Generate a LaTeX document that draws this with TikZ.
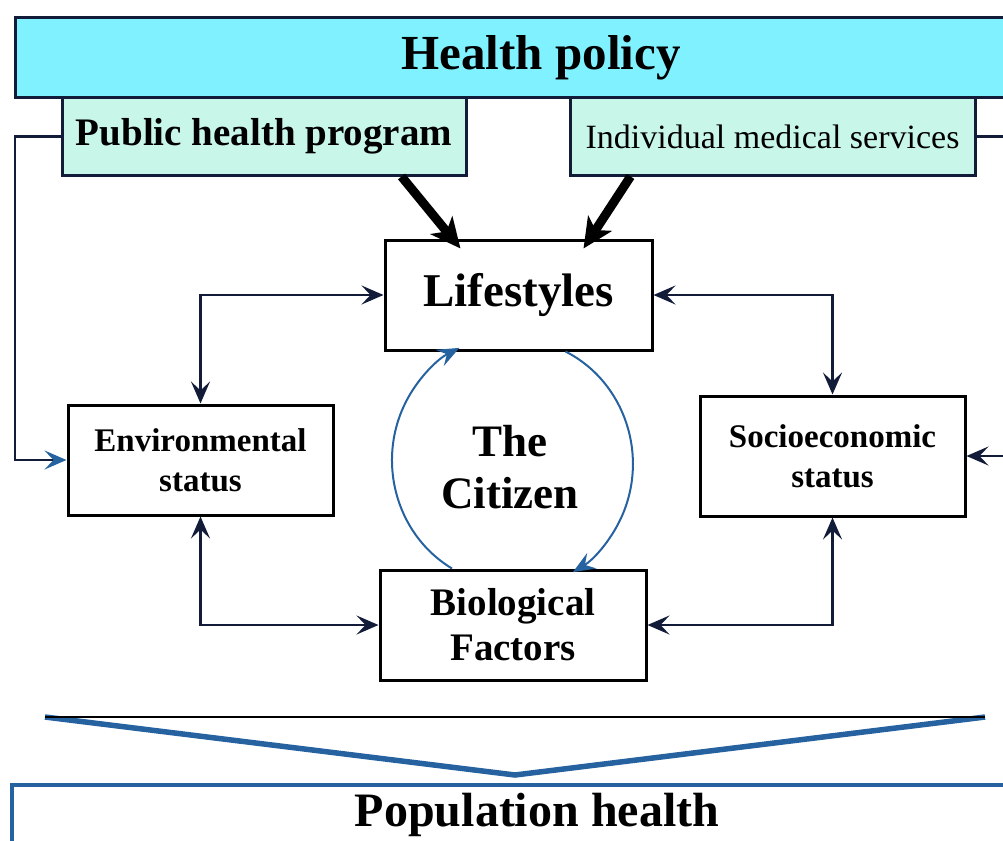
\documentclass[tikz,border=0pt]{standalone}
\usepackage{fontspec}
\setmainfont{Liberation Serif}
\usetikzlibrary{arrows.meta,calc}

\definecolor{policycyan}{RGB}{128,242,255}
\definecolor{progmint}{RGB}{200,247,234}
\definecolor{citblue}{RGB}{38,98,160}
\definecolor{navy}{RGB}{18,28,56}

\tikzset{
  sharp/.tip={Stealth[length=22pt,width=19pt,inset=9pt]},
  bluesharp/.tip={Stealth[length=22pt,width=19pt,inset=9pt,color=citblue]}
}

\begin{document}
\begin{tikzpicture}
  [x=1pt,y=1pt,
    font=\bfseries,
    box/.style={draw=black,line width=3pt,fill=white,align=center,inner sep=0pt},
    sized/.style 2 args={font=\bfseries\fontsize{#1}{#2}\selectfont},
    link/.style={draw=navy,line width=2.8pt},
    heavy/.style={draw=black,line width=9pt,-{Stealth[length=30pt,width=28pt,inset=8pt]}},
    cit/.style={draw=citblue,line width=2pt,-{Stealth[length=22pt,width=18pt,inset=8pt]}}]

  \useasboundingbox (0,0) rectangle (1003,-840);

  % the loop round the citizen
  \node[align=center,sized={45}{52}] (citizen) at (510,-467) {The\\Citizen};

  \node[box,fill=policycyan,draw=navy,minimum width=1052pt,minimum height=80pt,sized={49}{52}]
    (policy) at (541,-58) {Health policy};
  \node[box,fill=progmint,draw=navy,minimum width=404pt,minimum height=77pt,sized={39}{42}]
    (public) at (264,-136.5) {Public health program};
  \node[box,fill=progmint,draw=navy,minimum width=405pt,minimum height=77pt,
    font=\mdseries\fontsize{34}{36}\selectfont]
    (indiv) at (772.5,-136.5) {Individual medical services};

  \node[box,minimum width=267pt,minimum height=110pt,sized={47}{50}]
    (life) at (518.5,-295) {Lifestyles};
  \node[box,minimum width=265pt,minimum height=110pt,sized={33}{40}]
    (env) at (200.5,-460) {Environmental\\status};
  \node[box,minimum width=265pt,minimum height=120pt,sized={33}{40}]
    (socio) at (832.5,-456) {Socioeconomic\\status};
  \node[box,minimum width=266pt,minimum height=110pt,sized={39}{45}]
    (bio) at (513,-625) {Biological\\Factors};

  \node[box,draw=citblue,line width=3.5pt,minimum width=1050pt,minimum height=60pt,sized={48}{50}]
    (pop) at (537,-815) {Population health};

  \draw[cit] ($(bio.north)+(-61,0)$)
    arc[start angle=240,end angle=116,x radius=120pt,y radius=125pt];
  \draw[cit] ($(life.south)+(47,0)$)
    arc[start angle=64,end angle=-60,x radius=120pt,y radius=125pt];

  % feedback rails
  \coordinate (lrail) at (15,0);
  \coordinate (rrail) at (1012,0);
  \draw[link,-bluesharp]
    (public.west) -- (public.west -| lrail) -- (env.west -| lrail) -- (env.west);
  \draw[link,-sharp]
    (indiv.east) -- (indiv.east -| rrail) -- (socio.east -| rrail) -- (socio.east);

  \draw[heavy] ($(public.south east)+(-66,0)$) -- ($(life.north west)+(77,-10)$);
  \draw[heavy] ($(indiv.south west)+(62,0)$) -- ($(life.north east)+(-70,-10)$);

  \draw[link,sharp-sharp] (life.west) -| (env.north);
  \draw[link,sharp-sharp] (life.east) -| (socio.north);
  \draw[link,sharp-sharp] (env.south) |- (bio.west);
  \draw[link,sharp-sharp] (socio.south) |- (bio.east);

  % funnel into population health
  \coordinate (chevL) at (45,-717);
  \coordinate (chevR) at (985,-717);
  \coordinate (chevT) at (515,-775);
  \draw[draw=citblue,fill=white,line width=5.5pt,line join=miter] (chevL) -- (chevT) -- (chevR);
  \draw[line width=2.5pt] (chevL) -- (chevR);

\end{tikzpicture}
\end{document}
